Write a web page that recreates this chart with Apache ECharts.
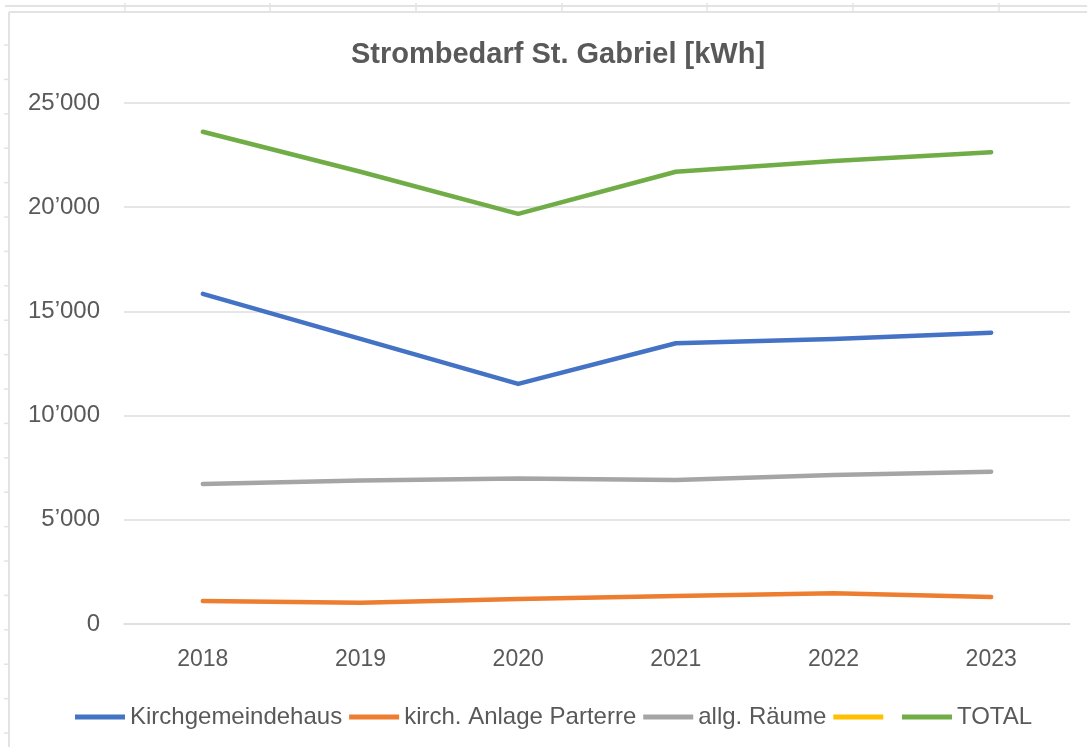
<!DOCTYPE html>
<html>
<head>
<meta charset="utf-8">
<title>Strombedarf St. Gabriel</title>
<script src="https://cdn.jsdelivr.net/npm/echarts@6/dist/echarts.min.js"></script>
<style>
html, body { margin: 0; padding: 0; background: #fff; }
#chart { width: 1087px; height: 747px; }
</style>
</head>
<body>
<div id="chart"></div>
<script>
// Jahre und Werte (kWh)
var years = ['2018', '2019', '2020', '2021', '2022', '2023']
var kirchgemeindehaus = [15840, 13680, 11520, 13470, 13670, 13980]
var anlageParterre = [1100, 1020, 1200, 1340, 1470, 1300]
var allgRaeume = [6720, 6880, 6980, 6910, 7150, 7310]
var leer = [] // gelbe Reihe ohne Werte, nur in der Legende
var total = [23620, 21700, 19680, 21700, 22220, 22640]

var yTicks = [0, 5000, 10000, 15000, 20000, 25000]

var seriesNames = ['Kirchgemeindehaus', 'kirch. Anlage Parterre', 'allg. Räume', ' ', 'TOTAL']
var seriesColors = ['#4472C4', '#ED7D31', '#A5A5A5', '#FFC000', '#70AD47']
var seriesData = [kirchgemeindehaus, anlageParterre, allgRaeume, leer, total]

function fmt (v) {
  return String(v).replace(/\B(?=(\d{3})+(?!\d))/g, '\u2019')
}

var gridColor = '#dedede'
var textColor = '#595959'
var font = '"Liberation Sans", Arial, sans-serif'

// Excel-Zellraster am Rand
var deco = [
  { type: 'line', shape: { x1: 5, y1: 6, x2: 1087, y2: 6 }, style: { stroke: '#e3e3e3', lineWidth: 2 } },
  { type: 'line', shape: { x1: 9, y1: 12, x2: 1087, y2: 12 }, style: { stroke: '#e3e3e3', lineWidth: 2 } },
  { type: 'line', shape: { x1: 9, y1: 12, x2: 9, y2: 747 }, style: { stroke: '#e3e3e3', lineWidth: 2 } }
]
var colX = [125, 270, 416, 562, 707, 853, 999]
colX.forEach(function (x) {
  deco.push({ type: 'line', shape: { x1: x, y1: 3, x2: x, y2: 12 }, style: { stroke: '#e3e3e3', lineWidth: 1.5 } })
})
for (var y = 45; y < 747; y += 34.4) {
  deco.push({ type: 'line', shape: { x1: 4, y1: y, x2: 9, y2: y }, style: { stroke: '#e3e3e3', lineWidth: 1.5 } })
}

var chart = echarts.init(document.getElementById('chart'))
chart.setOption({
  backgroundColor: '#ffffff',
  animation: false,
  graphic: deco,
  title: {
    text: 'Strombedarf St. Gabriel [kWh]',
    left: 553,
    textAlign: 'center',
    top: 35,
    textStyle: { color: textColor, fontSize: 29, fontWeight: 'bold', fontFamily: font }
  },
  legend: {
    left: 70,
    top: 700,
    icon: 'rect',
    itemWidth: 50,
    itemHeight: 5,
    itemGap: 7,
    textStyle: { color: textColor, fontSize: 24, fontFamily: font },
    data: seriesNames
  },
  grid: { left: 124, right: 17, top: 103, bottom: 123, containLabel: false },
  xAxis: {
    type: 'category',
    data: years,
    boundaryGap: true,
    axisLine: { show: true, lineStyle: { color: gridColor, width: 1.5 } },
    axisTick: { show: false },
    axisLabel: { color: textColor, fontSize: 23, fontFamily: font, margin: 24 }
  },
  yAxis: {
    type: 'value',
    min: yTicks[0],
    max: yTicks[yTicks.length - 1],
    interval: 5000,
    axisLine: { show: false },
    axisTick: { show: false },
    splitLine: { lineStyle: { color: gridColor, width: 1.5 } },
    axisLabel: { color: textColor, fontSize: 24, fontFamily: font, margin: 24, formatter: fmt }
  },
  series: seriesNames.map(function (name, i) {
    return {
      name: name,
      type: 'line',
      data: seriesData[i],
      showSymbol: false,
      symbol: 'none',
      color: seriesColors[i],
      lineStyle: { width: 4.5, color: seriesColors[i], cap: 'round', join: 'round' }
    }
  })
})
</script>
</body>
</html>
